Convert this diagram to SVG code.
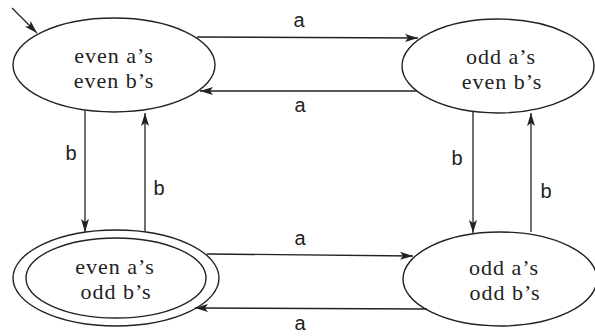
<svg xmlns="http://www.w3.org/2000/svg" width="595" height="336" viewBox="0 0 595 336">
<style>
.st{fill:#fff;stroke:#222;stroke-width:1.4}
.nt{font-family:"Liberation Serif","Times New Roman",serif;font-size:22px;letter-spacing:1px;fill:#222;text-anchor:middle}
.el{font-family:"Liberation Sans",Arial,sans-serif;font-size:20px;fill:#222;text-anchor:middle}
.cn{fill:none;stroke:#222;stroke-width:1.3;marker-end:url(#ah)}
</style>
<defs>
<marker id="ah" markerUnits="userSpaceOnUse" markerWidth="14" markerHeight="10" refX="13" refY="5" orient="auto">
<path d="M0,1 L13,5 L0,9 L3,5 Z" fill="#222"/>
</marker>
</defs>
<rect width="595" height="336" fill="#fff"/>
<g id="n-ee">
<ellipse class="st" cx="114" cy="65" rx="101" ry="47"/>
<text class="nt" x="114" y="63">even a’s</text>
<text class="nt" x="114" y="88">even b’s</text>
</g>
<g id="n-oe">
<ellipse class="st" cx="498" cy="66" rx="96" ry="47"/>
<text class="nt" x="501" y="64">odd a’s</text>
<text class="nt" x="502" y="89">even b’s</text>
</g>
<g id="n-eo">
<ellipse class="st" cx="116" cy="278" rx="103" ry="48"/>
<ellipse class="st" cx="116" cy="278" rx="90" ry="40"/>
<text class="nt" x="115" y="274">even a’s</text>
<text class="nt" x="116" y="299">odd b’s</text>
</g>
<g id="n-oo">
<ellipse class="st" cx="500" cy="279" rx="97" ry="47"/>
<text class="nt" x="504" y="275">odd a’s</text>
<text class="nt" x="505" y="300">odd b’s</text>
</g>
<g id="connectors">
<line class="cn" x1="12" y1="8" x2="37" y2="33"/>
<line class="cn" x1="197" y1="37" x2="418" y2="38"/>
<line class="cn" x1="417" y1="91" x2="200" y2="91"/>
<line class="cn" x1="85" y1="111" x2="85" y2="232"/>
<line class="cn" x1="145" y1="231" x2="145" y2="113"/>
<line class="cn" x1="473" y1="112" x2="473" y2="233"/>
<line class="cn" x1="531" y1="232" x2="531" y2="113"/>
<line class="cn" x1="207" y1="254" x2="413" y2="256"/>
<line class="cn" x1="427" y1="309" x2="195" y2="308"/>
<text class="el" x="299" y="27">a</text>
<text class="el" x="300" y="112">a</text>
<text class="el" x="71" y="160">b</text>
<text class="el" x="159" y="195">b</text>
<text class="el" x="457" y="165">b</text>
<text class="el" x="546" y="198">b</text>
<text class="el" x="300" y="245">a</text>
<text class="el" x="300" y="330">a</text>
</g>
</svg>
